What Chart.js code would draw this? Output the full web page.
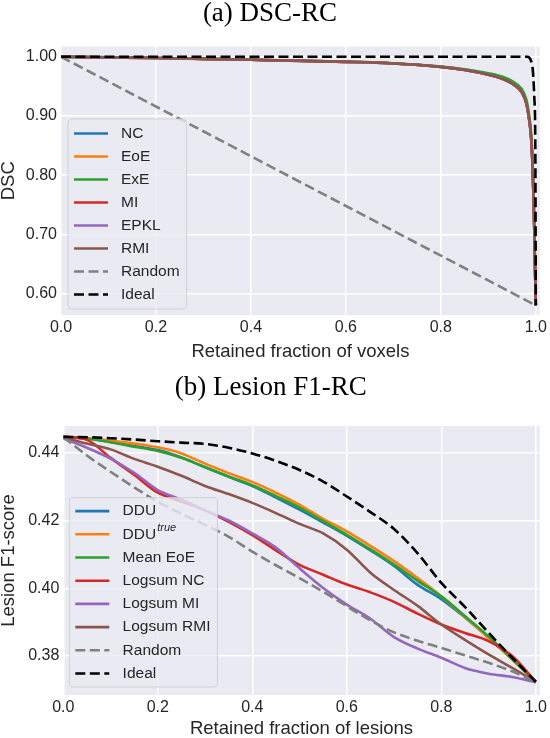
<!DOCTYPE html>
<html>
<head>
<meta charset="utf-8">
<script src="https://cdn.jsdelivr.net/npm/chart.js@4"></script>
<style>
  body { margin: 0; background: #fff; }
  canvas { display: block; }
</style>
</head>
<body>
<canvas id="dscChart" width="550" height="370"></canvas>
<canvas id="lesionChart" width="550" height="368"></canvas>
<script>
// (a) DSC-RC
const dscX = [0, 0.1, 0.2, 0.3, 0.4, 0.5, 0.6, 0.7, 0.8, 0.85, 0.9, 0.93, 0.95, 0.97, 0.98, 0.985, 0.99, 0.993, 0.996, 0.998, 1.0]
const dscNC = [1.000, 0.9990, 0.9980, 0.9965, 0.9950, 0.9932, 0.9915, 0.9888, 0.9830, 0.9780, 0.9700, 0.9630, 0.9550, 0.9410, 0.9220, 0.9000, 0.8650, 0.8200, 0.7400, 0.6600, 0.5800]
const dscEoE = [1.000, 0.9990, 0.9980, 0.9965, 0.9950, 0.9932, 0.9915, 0.9888, 0.9832, 0.9783, 0.9706, 0.9638, 0.9560, 0.9425, 0.9240, 0.9030, 0.8680, 0.8230, 0.7420, 0.6620, 0.5800]
const dscExE = [1.000, 0.9990, 0.9980, 0.9965, 0.9950, 0.9933, 0.9917, 0.9891, 0.9836, 0.9790, 0.9722, 0.9662, 0.9590, 0.9460, 0.9280, 0.9070, 0.8720, 0.8270, 0.7450, 0.6650, 0.5800]
const dscMI = [1.000, 0.9989, 0.9979, 0.9964, 0.9949, 0.9931, 0.9914, 0.9886, 0.9828, 0.9777, 0.9696, 0.9625, 0.9545, 0.9402, 0.9210, 0.8990, 0.8640, 0.8190, 0.7390, 0.6590, 0.5800]
const dscEPKL = [1.000, 0.9989, 0.9979, 0.9964, 0.9949, 0.9931, 0.9914, 0.9886, 0.9828, 0.9777, 0.9697, 0.9627, 0.9547, 0.9405, 0.9215, 0.8995, 0.8645, 0.8195, 0.7395, 0.6595, 0.5800]
const dscRMI = [1.000, 0.9990, 0.9980, 0.9965, 0.9950, 0.9932, 0.9915, 0.9887, 0.9829, 0.9778, 0.9698, 0.9628, 0.9548, 0.9408, 0.9218, 0.8998, 0.8648, 0.8198, 0.7398, 0.6598, 0.5800]
const dscRandomX = [0, 1]
const dscRandom = [1.0, 0.58]
const dscIdealX = [0, 0.982, 0.99, 0.994, 0.997, 0.999, 1.0]
const dscIdeal = [1.0, 1.0, 0.993, 0.975, 0.93, 0.85, 0.58]
const dscYTicks = [0.6, 0.7, 0.8, 0.9, 1.0]

// (b) Lesion F1-RC
const lesionX = [0, 0.05, 0.1, 0.15, 0.2, 0.25, 0.3, 0.35, 0.4, 0.45, 0.5, 0.55, 0.6, 0.65, 0.7, 0.75, 0.8, 0.85, 0.9, 0.95, 1.0]
const ddu = [0.4447, 0.4442, 0.4432, 0.4420, 0.4408, 0.4386, 0.4357, 0.4329, 0.4302, 0.4268, 0.4232, 0.4194, 0.4155, 0.4112, 0.4066, 0.4010, 0.3968, 0.3914, 0.3855, 0.3790, 0.3724]
const dduTrue = [0.4447, 0.4443, 0.4436, 0.4427, 0.4416, 0.4398, 0.4368, 0.4340, 0.4314, 0.4282, 0.4246, 0.4205, 0.4168, 0.4125, 0.4080, 0.4030, 0.3976, 0.3915, 0.3854, 0.3790, 0.3724]
const meanEoE = [0.4447, 0.4442, 0.4431, 0.4418, 0.4405, 0.4385, 0.4358, 0.4330, 0.4304, 0.4272, 0.4238, 0.4198, 0.4158, 0.4115, 0.4070, 0.4022, 0.3976, 0.3918, 0.3858, 0.3792, 0.3724]
const logsumNC = [0.4447, 0.4438, 0.4385, 0.4335, 0.4282, 0.4256, 0.4230, 0.4196, 0.4157, 0.4112, 0.4069, 0.4040, 0.4011, 0.3988, 0.3960, 0.3925, 0.3893, 0.3868, 0.3844, 0.3800, 0.3724]
const logsumMI = [0.4442, 0.4415, 0.4383, 0.4341, 0.4290, 0.4262, 0.4230, 0.4200, 0.4162, 0.4120, 0.4059, 0.4001, 0.3952, 0.3910, 0.3856, 0.3822, 0.3795, 0.3765, 0.3748, 0.3738, 0.3722]
const logsumRMI = [0.4447, 0.4427, 0.4410, 0.4382, 0.4359, 0.4332, 0.4302, 0.4278, 0.4252, 0.4222, 0.4190, 0.4162, 0.4114, 0.4046, 0.3995, 0.3948, 0.3893, 0.3848, 0.3805, 0.3765, 0.3724]
const lesionRandom = [0.4447, 0.4392, 0.4344, 0.4298, 0.4255, 0.4220, 0.4187, 0.4152, 0.4108, 0.4068, 0.4030, 0.3990, 0.3947, 0.3905, 0.3870, 0.3845, 0.3824, 0.3802, 0.3780, 0.3755, 0.3724]
const lesionIdeal = [0.4447, 0.4446, 0.4443, 0.4439, 0.4434, 0.4430, 0.4426, 0.4415, 0.4398, 0.4376, 0.4349, 0.4315, 0.4271, 0.4225, 0.4175, 0.4103, 0.4016, 0.3945, 0.3869, 0.3795, 0.3724]
const lesionYTicks = [0.38, 0.40, 0.42, 0.44]

const xTicks = [0, 0.2, 0.4, 0.6, 0.8, 1.0]

const TEXT = '#262626'
Chart.defaults.font.family = '"Liberation Sans", Arial, sans-serif'
Chart.defaults.color = TEXT

function line (label, xs, ys, color, dashed) {
  return {
    label,
    data: xs.map((x, i) => ({ x, y: ys[i] })),
    borderColor: color,
    borderWidth: 2.6,
    borderDash: dashed ? [10, 4.5] : [],
    pointRadius: 0,
    cubicInterpolationMode: 'monotone',
    fill: false
  }
}

// later datasets on top, like matplotlib
function stack (sets) {
  sets.forEach((d, i) => { d.order = sets.length - i })
  return sets
}

const plotBackground = {
  id: 'plotBackground',
  beforeDraw (chart) {
    const { ctx, chartArea: a } = chart
    ctx.save()
    ctx.fillStyle = '#eaeaf2'
    ctx.fillRect(a.left, a.top, a.width, a.height)
    ctx.restore()
  }
}

function drawLabel (ctx, text, x, y, measureOnly) {
  const [main, sup] = text.split('^')
  ctx.font = '15.5px "Liberation Sans"'
  let w = ctx.measureText(main).width
  if (!measureOnly) ctx.fillText(main, x, y)
  if (sup) {
    ctx.font = 'italic 11px "Liberation Sans"'
    if (!measureOnly) ctx.fillText(sup, x + w + 1, y - 6)
    w += 1 + ctx.measureText(sup).width
    ctx.font = '15.5px "Liberation Sans"'
  }
  return w
}

// legend box drawn inside the plot, lower left
const boxLegend = {
  id: 'boxLegend',
  afterDraw (chart, args, opts) {
    const { ctx, chartArea: a } = chart
    const items = chart.data.datasets
    ctx.save()
    const maxW = Math.max(...items.map(d => drawLabel(ctx, d.label, 0, 0, true)))
    const w = opts.textOffset + maxW + 7
    const h = opts.rowStep * (items.length - 1) + opts.padY * 2
    const x = a.left + opts.offsetX
    const y = a.bottom - opts.offsetBottom - h
    ctx.beginPath()
    ctx.roundRect(x, y, w, h, 4)
    ctx.fillStyle = 'rgba(234, 234, 242, 0.8)'
    ctx.fill()
    ctx.strokeStyle = 'rgba(204, 204, 204, 0.8)'
    ctx.lineWidth = 1
    ctx.stroke()
    ctx.textBaseline = 'middle'
    items.forEach((d, i) => {
      const ry = y + opts.padY + i * opts.rowStep
      ctx.beginPath()
      ctx.setLineDash(d.borderDash)
      ctx.strokeStyle = d.borderColor
      ctx.lineWidth = d.borderWidth
      ctx.moveTo(x + 6, ry)
      ctx.lineTo(x + 40, ry)
      ctx.stroke()
      ctx.setLineDash([])
      ctx.fillStyle = TEXT
      drawLabel(ctx, d.label, x + opts.textOffset, ry)
    })
    ctx.restore()
  }
}

function axes (o) {
  return {
    x: {
      type: 'linear',
      min: 0,
      max: 1.0084,
      afterBuildTicks: s => { s.ticks = xTicks.map(v => ({ value: v })) },
      afterFit: s => { s.height = o.xHeight },
      grid: { color: '#ffffff', lineWidth: 1.5, drawTicks: false },
      border: { display: false },
      ticks: { padding: 3, font: { size: 16 }, color: TEXT, callback: v => v.toFixed(1) },
      title: { display: true, text: o.xTitle, color: TEXT, font: { size: 18.5, lineHeight: 1 }, padding: { top: 0, bottom: o.xTitlePad } }
    },
    y: {
      type: 'linear',
      min: o.yMin,
      max: o.yMax,
      afterBuildTicks: s => { s.ticks = o.yTicks.map(v => ({ value: v })) },
      afterFit: s => { s.width = o.yWidth },
      grid: { color: '#ffffff', lineWidth: 1.5, drawTicks: false },
      border: { display: false },
      ticks: { padding: 4, font: { size: 16 }, color: TEXT, callback: v => v.toFixed(2) },
      title: { display: true, text: o.yTitle, color: TEXT, font: { size: 18.5, lineHeight: 1 }, padding: { top: 0, bottom: 0 } }
    }
  }
}

new Chart(document.getElementById('dscChart'), {
  type: 'line',
  data: {
    datasets: stack([
      line('NC', dscX, dscNC, '#1f77b4'),
      line('EoE', dscX, dscEoE, '#ff7f0e'),
      line('ExE', dscX, dscExE, '#2ca02c'),
      line('MI', dscX, dscMI, '#d62728'),
      line('EPKL', dscX, dscEPKL, '#9467bd'),
      line('RMI', dscX, dscRMI, '#8c564b'),
      line('Random', dscRandomX, dscRandom, '#808080', true),
      line('Ideal', dscIdealX, dscIdeal, '#000000', true)
    ])
  },
  options: {
    responsive: false,
    animation: false,
    layout: { padding: { top: 0.5, right: 10, bottom: 0, left: 0 } },
    scales: axes({
      xTitle: 'Retained fraction of voxels',
      yTitle: 'DSC',
      yMin: 0.5637,
      yMax: 1.0174,
      yTicks: dscYTicks,
      yWidth: 61,
      xHeight: 55,
      xTitlePad: 8.75
    }),
    plugins: {
      legend: { display: false },
      tooltip: { enabled: false },
      title: {
        display: true,
        text: '(a) DSC-RC',
        color: '#000000',
        font: { family: '"Liberation Serif", "Times New Roman", serif', size: 27, weight: 'normal', lineHeight: 1 },
        padding: { top: 0, bottom: 19 }
      },
      boxLegend: { offsetX: 7, offsetBottom: 6, padY: 14.5, rowStep: 23, textOffset: 53 }
    }
  },
  plugins: [plotBackground, boxLegend]
})

new Chart(document.getElementById('lesionChart'), {
  type: 'line',
  data: {
    datasets: stack([
      line('DDU', lesionX, ddu, '#1f77b4'),
      line('DDU^true', lesionX, dduTrue, '#ff7f0e'),
      line('Mean EoE', lesionX, meanEoE, '#2ca02c'),
      line('Logsum NC', lesionX, logsumNC, '#d62728'),
      line('Logsum MI', lesionX, logsumMI, '#9467bd'),
      line('Logsum RMI', lesionX, logsumRMI, '#8c564b'),
      line('Random', lesionX, lesionRandom, '#808080', true),
      line('Ideal', lesionX, lesionIdeal, '#000000', true)
    ])
  },
  options: {
    responsive: false,
    animation: false,
    layout: { padding: { top: 4.5, right: 8.3, bottom: 0, left: 0 } },
    scales: axes({
      xTitle: 'Retained fraction of lesions',
      yTitle: 'Lesion F1-score',
      yMin: 0.3685,
      yMax: 0.4479,
      yTicks: lesionYTicks,
      yWidth: 63.3,
      xHeight: 43,
      xTitlePad: 0
    }),
    plugins: {
      legend: { display: false },
      tooltip: { enabled: false },
      title: {
        display: true,
        text: '(b) Lesion F1-RC',
        color: '#000000',
        font: { family: '"Liberation Serif", "Times New Roman", serif', size: 27, weight: 'normal', lineHeight: 1 },
        padding: { top: 0, bottom: 24.5 }
      },
      boxLegend: { offsetX: 6, offsetBottom: 8, padY: 13.5, rowStep: 23.2, textOffset: 53.3 }
    }
  },
  plugins: [plotBackground, boxLegend]
})
</script>
</body>
</html>
